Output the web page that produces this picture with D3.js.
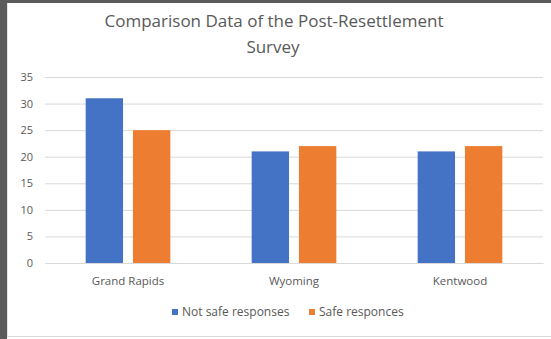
<!DOCTYPE html>
<html><head><meta charset="utf-8">
<script src="https://cdn.jsdelivr.net/npm/d3@7"></script>
<style>body{margin:0;background:#fff}svg{display:block}</style>
</head><body>
<script>
const categories = ["Grand Rapids", "Wyoming", "Kentwood"];
const seriesNames = ["Not safe responses", "Safe responces"];
const notSafe = [31, 21, 21];
const safe = [25, 22, 22];
const yTicks = [0, 5, 10, 15, 20, 25, 30, 35];
const colors = ["#4472c4", "#ed7d31"];

(function(){
const W = 551, H = 339;
const svg = d3.select("body").append("svg").attr("width", W).attr("height", H);
// frame
svg.append("rect").attr("x",0).attr("y",0).attr("width",W).attr("height",H).attr("fill","#5b5b5b");
svg.append("rect").attr("x",7).attr("y",3).attr("width",W-7).attr("height",H-3).attr("fill","#fff");
svg.append("line").attr("x1",7.5).attr("x2",7.5).attr("y1",3).attr("y2",337).attr("stroke","#e3e3e3");
svg.append("line").attr("x1",7).attr("x2",W).attr("y1",336.5).attr("y2",336.5).attr("stroke","#d9d9d9");

const font = "'Open Sans', sans-serif";
const mL = 45, mR = 543, mT = 77, mB = 263;

const y = d3.scaleLinear().domain([0, 35]).range([mB, mT]);
const x0 = d3.scaleBand().domain(categories).range([mL, mR]).paddingInner(0.49).paddingOuter(0.245);
const x1 = d3.scaleBand().domain(seriesNames).range([0, x0.bandwidth()]).paddingInner(0.21);

// title
const title = svg.append("text").attr("text-anchor","middle").attr("fill","#595959")
  .style("font-family", font).style("font-size","17px");
title.append("tspan").attr("x",274).attr("y",27).text("Comparison Data of the Post-Resettlement");
title.append("tspan").attr("x",273).attr("y",53).text("Survey");

// gridlines
const yAxis = d3.axisLeft(y).tickValues(yTicks).tickSize(-(mR-mL)).tickPadding(12);
const gy = svg.append("g").attr("transform",`translate(${mL},0)`).call(yAxis);
gy.select(".domain").remove();
gy.selectAll(".tick line").attr("stroke","#d9d9d9");
gy.selectAll(".tick text").attr("fill","#595959").style("font-family",font).style("font-size","11px");

// bars
const data = categories.map((c,i)=>({c, vals:[notSafe[i], safe[i]]}));
const g = svg.append("g");
data.forEach(d=>{
  d.vals.forEach((v,j)=>{
    g.append("rect")
      .attr("x", x0(d.c) + x1(seriesNames[j]))
      .attr("y", y(v))
      .attr("width", x1.bandwidth())
      .attr("height", y(0) - y(v))
      .attr("fill", colors[j]);
  });
});

// x axis
const xAxis = d3.axisBottom(x0).tickSize(0).tickPadding(14);
const gx = svg.append("g").attr("transform",`translate(0,${mB})`).call(xAxis);
gx.select(".domain").attr("stroke","#d9d9d9");
gx.selectAll(".tick text").attr("fill","#595959").style("font-family",font).style("font-size","11.5px");

// legend
const legendX = [172, 309];
seriesNames.forEach((s,j)=>{
  svg.append("rect").attr("x",legendX[j]).attr("y",309).attr("width",6).attr("height",6).attr("fill",colors[j]);
  svg.append("text").attr("x",legendX[j]+10).attr("y",316).attr("fill","#595959")
    .style("font-family",font).style("font-size","12px").text(s);
});
})();
</script>
</body></html>
